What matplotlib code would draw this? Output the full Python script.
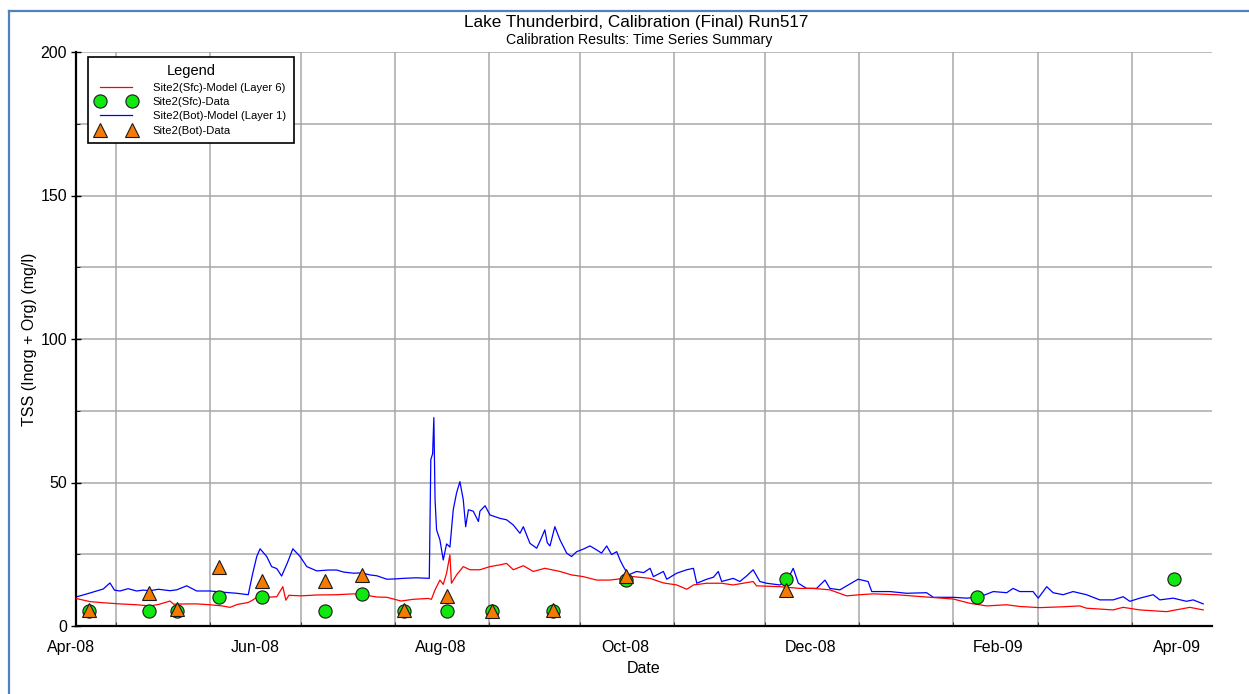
import numpy as np
import pandas as pd
import matplotlib
matplotlib.use("Agg")
import matplotlib.pyplot as plt
import matplotlib.dates as mdates
import matplotlib.transforms as mtransforms
from matplotlib.lines import Line2D

plt.rcParams['font.family'] = ['Liberation Sans', 'DejaVu Sans']

# Model output, x = days since 2008-05-01
day0 = '2008-05-01'

bot_model_day = [-13.2, -8.6, -4.2, -2, -0.5, 1.3, 4, 6.8, 9, 11.2, 14, 17.8, 20, 23.3, 26.6,
                 31, 35, 39.8, 43.6, 45, 46.4, 47.5, 49.7, 51.3, 53, 54.6, 56.5, 58.3, 60.7,
                 62.9, 66.2, 70, 72.8, 75, 78.3, 81, 83.7, 86, 89.3, 92, 94.7, 99, 103.3,
                 103.8, 104.4, 104.8, 105.2, 105.7, 106.8, 107.9, 109, 110.1, 111.2, 112.3,
                 113.4, 114.5, 115.3, 116.2, 117.8, 119.5, 120, 121.7, 123.3, 126.6, 128.8,
                 131, 133.2, 134.3, 136.5, 138.7, 140, 141.4, 142.2, 143.1, 144.7, 146.4,
                 148.6, 150.2, 151.9, 154.1, 156.3, 158.5, 160.1, 161.8, 163.4, 165.1, 166.2,
                 167.3, 168.9, 171.7, 174, 176.1, 177.2, 180.5, 181.6, 184.9, 188.2, 190.4,
                 191.5, 194.8, 197, 198.6, 199.7, 203.5, 205.7, 208, 210.1, 212.3, 214.5,
                 218.9, 221.1, 223.3, 225, 227.7, 231, 233.8, 235.4, 238.7, 244.7, 248,
                 249.2, 255.2, 260.7, 267.3, 269.5, 276.1, 280.5, 284.9, 289.3, 293.7, 295.8,
                 298, 302.4, 304.1, 306.9, 309, 312.3, 315.6, 320, 324.4, 328.8, 332.1,
                 334.3, 337.6, 342, 344.2, 348.6, 353, 355.2, 358.5]
bot_model = [10.1, 11.5, 12.9, 15, 12.5, 12.2, 13, 12.2, 12.5, 12.3, 12.8, 12.3, 12.6, 14, 12.2,
             12.2, 11.8, 11.4, 10.9, 18, 24.2, 26.9, 24.2, 20.7, 20, 17.4, 22, 26.9, 24.2,
             20.7, 19.2, 19.5, 19.5, 18.8, 18.4, 18.5, 17.8, 17.5, 16.3, 16.4, 16.6, 16.8, 16.6,
             58, 60, 72.6, 44, 33.5, 30, 23, 28.6, 27.5, 40.5, 46.4,
             50.3, 44, 34.6, 40.5, 40, 36.4, 40, 41.9, 38.7, 37.5, 37,
             35.2, 32.3, 34.6, 28.8, 27.1, 30, 33.5, 29, 27.9, 34.6, 30,
             25.4, 24.2, 25.9, 26.8, 27.9, 26.5, 25.4, 27.9, 24.9, 25.9, 23,
             20.7, 17.8, 19, 18.6, 20.1, 17.2, 19, 16.3, 18.4, 19.6, 20.1,
             14.9, 16.3, 17, 19, 15.5, 16.6, 15.5, 17.5, 19.6, 15.5, 14.9,
             14.3, 15.5, 20.1, 14.9, 13.1, 13.1, 16, 13.1, 12.6, 16.3, 15.5,
             12, 12, 11.4, 11.6, 10, 10, 9.7, 10.2, 12, 11.6, 13.1,
             12, 12, 9.7, 13.7, 11.6, 10.9, 12, 10.9, 9.1, 9.1, 10.2,
             8.6, 9.7, 10.9, 9.1, 9.7, 8.6, 9.1, 7.7]

sfc_model_day = [-13.2, -8.6, -4.2, 1.3, 6.8, 11.2, 14, 17.8, 19, 24, 26.6, 31, 35, 37.6, 40,
                 43.6, 45, 46.4, 49.7, 53, 55, 56, 57, 61, 66, 72.8, 78.3, 83.7, 86, 89.3,
                 94, 98, 102.9, 104, 105.2, 106.8, 107.9, 109, 110.1, 110.6, 112.3, 114.5,
                 116.7, 120, 123.3, 126.6, 128.8, 131, 134.3, 137.6, 141.4, 146.4, 150.2,
                 154.1, 158.5, 162.9, 167.3, 170.6, 176.1, 180.5, 184.9, 188.2, 190.4, 194.8,
                 199.7, 203.5, 210.1, 211.2, 218.9, 225.5, 229.9, 235.4, 240.9, 245.3, 249.7,
                 257.4, 268.4, 276.1, 281.6, 287.1, 293.7, 298, 304.6, 312.3, 317.8, 320,
                 328.8, 332.1, 337.6, 346.4, 354.1, 358.5]
sfc_model = [9.6, 8.5, 8.1, 7.7, 7.4, 7, 7.5, 8.7, 7.6, 7.7, 7.7, 7.4, 7, 6.5, 7.5,
             8.2, 9, 10, 10, 10.2, 13.7, 9, 10.7, 10.5, 10.8, 10.9, 11.2, 10.5, 10.1, 10,
             8.7, 9.3, 9.6, 9.3, 12.6, 16, 14.5, 18.4, 24.8, 14.9, 17.8, 20.7,
             19.6, 19.6, 20.7, 21.3, 21.8, 19.6, 21, 19, 20.1, 19, 17.8,
             17.2, 16, 16, 16.6, 17.2, 16.6, 15, 14.3, 12.8, 14.3, 14.9,
             14.9, 14.3, 15.5, 14, 13.7, 13.1, 13.1, 12.6, 10.5, 10.9, 11.2,
             10.9, 10, 9.4, 7.9, 7, 7.4, 6.8, 6.4, 6.7, 7, 6.2,
             5.6, 6.5, 5.6, 5, 6.5, 5.6]

# Observations
sfc_data_dates = ['2008-04-22', '2008-05-12', '2008-05-21', '2008-06-04', '2008-06-18',
                  '2008-07-09', '2008-07-21', '2008-08-04', '2008-08-18', '2008-09-02',
                  '2008-09-22', '2008-10-16', '2008-12-08', '2009-02-09', '2009-04-15']
sfc_data = [5.2, 5.1, 5.2, 10.0, 10.1, 5.1, 11.3, 5.1, 5.2, 5.2, 5.2, 16.2, 16.4, 10.1, 16.4]

bot_data_dates = ['2008-04-22', '2008-05-12', '2008-05-21', '2008-06-04', '2008-06-18',
                  '2008-07-09', '2008-07-21', '2008-08-04', '2008-08-18', '2008-09-02',
                  '2008-09-22', '2008-10-16', '2008-12-08']
bot_data = [5.6, 11.5, 5.9, 20.6, 15.7, 15.7, 17.8, 5.6, 10.6, 5.4, 5.6, 17.3, 12.6]

date_labels = ['Apr-08', 'Jun-08', 'Aug-08', 'Oct-08', 'Dec-08', 'Feb-09', 'Apr-09']
date_label_pos = ['2008-04-16', '2008-06-16', '2008-08-16', '2008-10-16',
                  '2008-12-16', '2009-02-16', '2009-04-16']

base = mdates.date2num(pd.Timestamp(day0))


def to_num(dates):
    return mdates.date2num(pd.to_datetime(dates))


fig = plt.figure(figsize=(12.49, 6.94), dpi=100)
ax = fig.add_axes([76 / 1249, 1 - 626 / 694, 1136 / 1249, 574 / 694])

ax.plot(base + np.array(sfc_model_day), sfc_model, color='#ff0000', lw=0.9,
        label='Site2(Sfc)-Model (Layer 6)', zorder=3)
ax.plot(to_num(sfc_data_dates), sfc_data, ls='none', marker='o', ms=9.5,
        mfc='#10e810', mec='#1a1a1a', mew=0.8, label='Site2(Sfc)-Data', zorder=4)
ax.plot(base + np.array(bot_model_day), bot_model, color='#0000ff', lw=0.9,
        label='Site2(Bot)-Model (Layer 1)', zorder=2)
ax.plot(to_num(bot_data_dates), bot_data, ls='none', marker='^', ms=10,
        mfc='#f57a00', mec='#1a1a1a', mew=0.8, label='Site2(Bot)-Data', zorder=5)

ax.set_xlim(base - 13.2, base + 361.4)
ax.set_ylim(0, 200)

# gridlines at month starts, labels at mid-month
ax.xaxis.set_major_locator(mdates.MonthLocator())
ax.xaxis.set_major_formatter(plt.NullFormatter())
ax.tick_params(axis='x', which='major', direction='in', length=3, color='#444444')
ax.set_yticks([0, 50, 100, 150, 200])
ax.set_yticks([25, 75, 125, 175], minor=True)
ax.tick_params(axis='y', which='major', direction='inout', length=7, width=1,
               labelsize=11.5, pad=3)
ax.tick_params(axis='y', which='minor', direction='in', length=3)
ax.grid(True, which='both', color='#a8a8a8', lw=1.1)
ax.set_axisbelow(True)

for s in ['top', 'right']:
    ax.spines[s].set_visible(False)
for s in ['left', 'bottom']:
    ax.spines[s].set_linewidth(1.6)
    ax.spines[s].set_color('black')

trans = mtransforms.blended_transform_factory(ax.transData, ax.transAxes)
for lab, pos in zip(date_labels, to_num(date_label_pos)):
    ax.text(pos, -0.0366, lab, transform=trans, ha='center', va='center',
            fontsize=11.5, clip_on=False)

ax.set_xlabel('Date', fontsize=11.5)
ax.xaxis.set_label_coords(0.5, -0.061)
ax.set_ylabel('TSS (Inorg + Org) (mg/l)', fontsize=11.5)
ax.yaxis.set_label_coords(-0.0343, 0.5)

fig.text(0.5096, 1 - 22 / 694, 'Lake Thunderbird, Calibration (Final) Run517',
         ha='center', va='center', fontsize=12.3)
fig.text(0.5116, 1 - 40 / 694, 'Calibration Results: Time Series Summary',
         ha='center', va='center', fontsize=10.2)

leg = ax.legend(loc='upper left', bbox_to_anchor=(0.0108, 0.992), borderaxespad=0,
                numpoints=2, fontsize=8.1, title='Legend', title_fontsize=10.5,
                fancybox=False, shadow=False, framealpha=1, edgecolor='black',
                handlelength=3.5, handletextpad=1.55, labelspacing=0.38, borderpad=0.7)
leg.get_frame().set_linewidth(1.2)

# outer blue frame
fig.add_artist(Line2D([8.5 / 1249, 8.5 / 1249], [0, 1 - 10.5 / 694], color='#4f81bd', lw=1.6))
fig.add_artist(Line2D([8.5 / 1249, 1], [1 - 10.5 / 694, 1 - 10.5 / 694], color='#4f81bd', lw=1.6))

fig.savefig('out.png', dpi=100)
